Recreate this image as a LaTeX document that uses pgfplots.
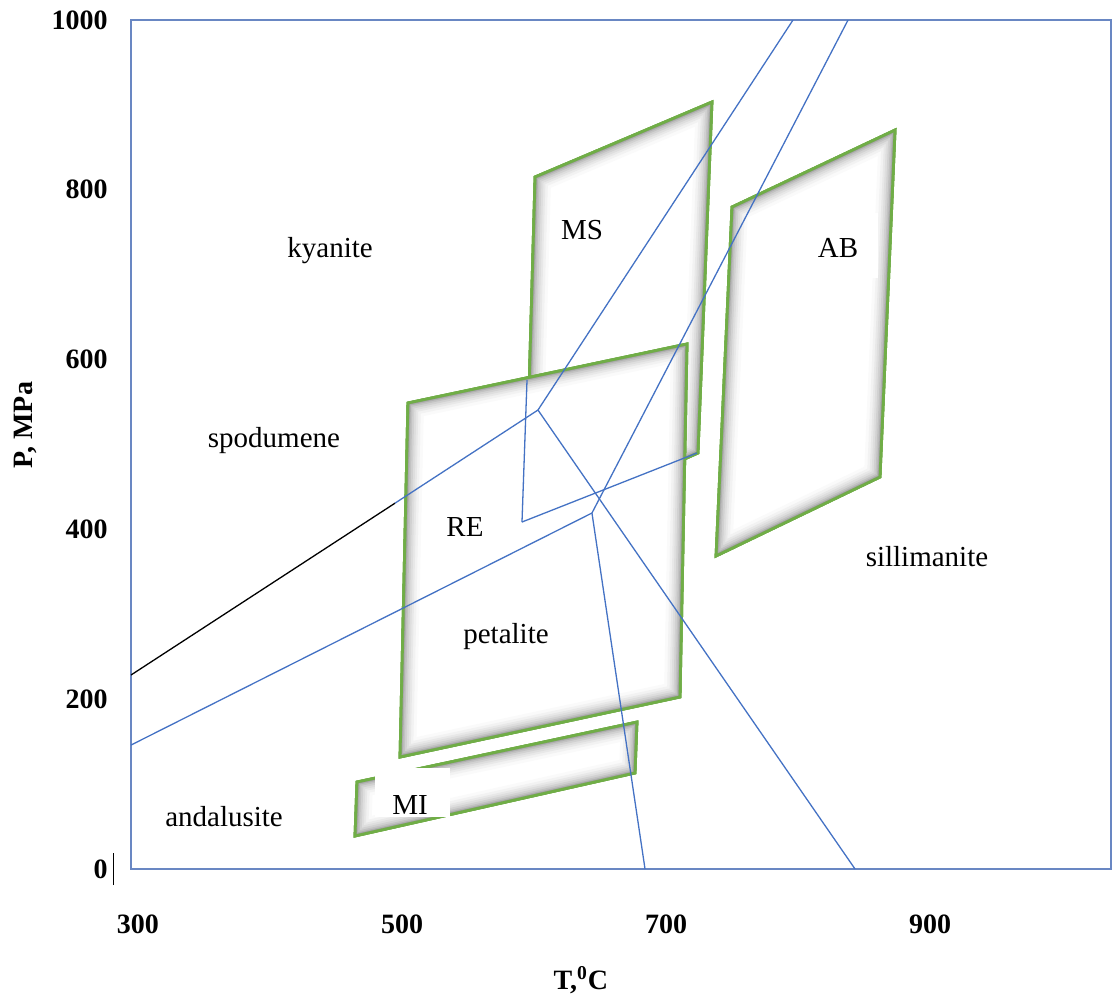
\documentclass[border=0pt]{standalone}
\usepackage{fontspec}
\setmainfont{Liberation Serif}
\usepackage{pgfplots}
\pgfplotsset{compat=1.18}
\definecolor{lblue}{RGB}{68,114,196}
\definecolor{lgreen}{RGB}{112,173,71}
\definecolor{frame}{RGB}{105,135,195}

\begin{document}
\begin{tikzpicture}[
  lab/.style={font=\fontsize{14.5}{16}\selectfont, inner sep=0pt},
  glowbox/.style={draw=lgreen, line width=1.4pt, line join=miter,
    preaction={fill=white},
    preaction={clip,
      postaction={draw=black!2, line width=16pt},
      postaction={draw=black!5, line width=13pt},
      postaction={draw=black!9, line width=10.5pt},
      postaction={draw=black!13, line width=8.5pt},
      postaction={draw=black!18, line width=6.5pt},
      postaction={draw=black!24, line width=4.6pt},
      postaction={draw=black!31, line width=3pt},
      postaction={draw=black!40, line width=1.8pt}}},
  bline/.style={draw=lblue, line width=0.65pt}
]
\begin{axis}[
  at={(0,0)}, anchor=south west,
  scale only axis, width=490pt, height=424.5pt,
  xmin=294.7, xmax=1037.1, ymin=0, ymax=1000,
  axis line style={draw=frame, line width=1pt},
  xtick={300,500,700,900}, xticklabels={300,500,700,900},
  ytick={0,200,400,600,800,1000},
  yticklabels={0\rlap{\hspace{2.5pt}\rule[-3.25pt]{0.7pt}{16pt}},200,400,600,800,1000},
  major tick length=0pt, tick style={draw=none},
  tick label style={font=\fontsize{14}{16}\selectfont\bfseries},
  xticklabel style={anchor=base, yshift=-32pt, inner sep=0pt},
  yticklabel style={anchor=east, xshift=-11.5pt, inner sep=0pt},
  xlabel={T,\textsuperscript{0}C}, ylabel={P, MPa},
  label style={font=\fontsize{14}{16}\selectfont\bfseries},
  xlabel style={at={(rel axis cs:0.459,-0.1425)}, anchor=base, inner sep=0pt},
  ylabel style={at={(rel axis cs:-0.1,0.523)}, anchor=base, inner sep=0pt},
]
% stability fields (quadrilaterals)
\addplot[glowbox] coordinates {(600.8,815.1) (734.8,903.4) (724.2,490.0) (593.2,399.3)} -- cycle; % MS
\addplot[glowbox] coordinates {(504.5,548.9) (715.9,618.4) (710.6,202.6) (498.5,131.9)} -- cycle; % RE
\addplot[glowbox] coordinates {(750.0,779.7) (873.5,870.4) (862.1,461.7) (737.9,368.7)} -- cycle; % AB
\addplot[glowbox] coordinates {(465.9,102.5) (678.0,173.1) (676.5,113.1) (464.4,38.9)} -- cycle; % MI

% white label boxes
\node[fill=white, minimum width=37.5pt, minimum height=24.5pt, inner sep=0pt] at (axis cs:508,90) {};
\node[fill=white, minimum width=40pt, minimum height=32.5pt, inner sep=0pt] at (axis cs:830.3,734.4) {};

% phase boundaries
\addplot[draw=black, line width=0.65pt] coordinates {(294.7,228.5) (494.8,431.0)};
\addplot[bline] coordinates {(494.8,431.0) (603.0,540.6)};
\addplot[bline] coordinates {(603.0,540.6) (796.2,1000)};
\addplot[bline] coordinates {(603.0,540.6) (843.2,0)};
\addplot[bline] coordinates {(594.7,576.0) (590.9,408.7)};
\addplot[bline] coordinates {(590.9,408.7) (723.5,490.0)};
\addplot[bline] coordinates {(294.7,146.0) (643.9,419.3)};
\addplot[bline] coordinates {(643.9,419.3) (837.9,1000)};
\addplot[bline] coordinates {(643.9,419.3) (684.1,0)};

% labels
\node[lab] at (axis cs:445.5,727.9) {kyanite};
\node[lab] at (axis cs:403.0,504.1) {spodumene};
\node[lab] at (axis cs:365.2,61.2) {andalusite};
\node[lab] at (axis cs:897.7,367.5) {sillimanite};
\node[lab] at (axis cs:636.4,752.7) {MS};
\node[lab] at (axis cs:830.3,731.4) {AB};
\node[lab] at (axis cs:547.7,402.8) {RE};
\node[lab] at (axis cs:578.8,274.4) {petalite};
\node[lab] at (axis cs:506.1,75.4) {MI};
\end{axis}
\pgfresetboundingbox
\path[use as bounding box] (-65.5pt,-64.5pt) rectangle (491pt,434.5pt);
\end{tikzpicture}
\end{document}
